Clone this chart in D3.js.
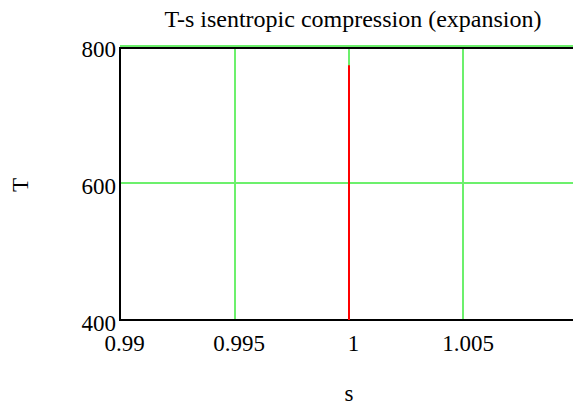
<!DOCTYPE html>
<html>
<head>
<meta charset="utf-8">
<script src="https://cdn.jsdelivr.net/npm/d3@7"></script>
<style>
  body { margin: 0; background: #fff; }
  svg text { font-family: "Liberation Serif", "Times New Roman", serif; fill: #000; }
</style>
</head>
<body>
<svg id="chart" width="573" height="406"></svg>
<script>
// chart values
var sValues = [1, 1];
var tValues = [400, 772];
var xTicks = [0.99, 0.995, 1, 1.005];
var yTicks = [400, 600, 800];
var xGrid = [0.995, 1, 1.005];
var yGrid = [600, 800];
var title = "T-s isentropic compression (expansion)";

var svg = d3.select("#chart");
var width = +svg.attr("width"),
    height = +svg.attr("height");

// plot box runs past the right edge of the window
var plotL = 120, plotR = 578, plotT = 46, plotB = 320;

var x = d3.scaleLinear().domain([0.99, 1.01]).range([plotL, plotR]);
var y = d3.scaleLinear().domain([400, 800]).range([plotB, plotT]);

// snap to whole pixels so 2px lines stay crisp
function px(v) { return Math.round(v); }

var green = "#6cf06c";

// grid
svg.append("g").attr("class", "grid")
  .selectAll("line")
  .data(xGrid)
  .enter().append("line")
    .attr("x1", function(d) { return px(x(d)); })
    .attr("x2", function(d) { return px(x(d)); })
    .attr("y1", plotT)
    .attr("y2", plotB)
    .style("stroke", green)
    .style("stroke-width", 2);

svg.append("g").attr("class", "grid")
  .selectAll("line")
  .data(yGrid)
  .enter().append("line")
    .attr("x1", plotL)
    .attr("x2", width)
    .attr("y1", function(d) { return px(y(d)); })
    .attr("y2", function(d) { return px(y(d)); })
    .style("stroke", green)
    .style("stroke-width", 2);

// frame (top edge sits just under the 800 grid line)
var frame = svg.append("g").attr("class", "frame");
frame.append("line").attr("x1", plotL).attr("x2", width).attr("y1", plotT + 2).attr("y2", plotT + 2)
  .style("stroke", "#000").style("stroke-width", 2);
frame.append("line").attr("x1", plotL).attr("x2", width).attr("y1", plotB).attr("y2", plotB)
  .style("stroke", "#000").style("stroke-width", 2);
frame.append("line").attr("x1", plotL).attr("x2", plotL).attr("y1", plotT + 1).attr("y2", plotB + 1)
  .style("stroke", "#000").style("stroke-width", 2);

// trace
var line = d3.line()
  .x(function(d, i) { return px(x(sValues[i])); })
  .y(function(d) { return y(d); });

svg.append("path")
  .datum(tValues)
  .attr("d", line)
  .style("fill", "none")
  .style("stroke", "#ff0000")
  .style("stroke-width", 2);

// axes (labels only)
var xAxis = d3.axisBottom(x).tickValues(xTicks).tickSize(0).tickPadding(0)
  .tickFormat(function(d) { return String(d); });
var gx = svg.append("g").attr("transform", "translate(4," + (plotB + 15) + ")").call(xAxis);
gx.select(".domain").remove();
gx.selectAll("text").style("font-size", "23px").style("font-family", "Liberation Serif, serif");

var yAxis = d3.axisLeft(y).tickValues(yTicks).tickSize(0).tickPadding(0)
  .tickFormat(function(d) { return String(d); });
var gy = svg.append("g").attr("transform", "translate(" + (plotL - 4) + ",3)").call(yAxis);
gy.select(".domain").remove();
gy.selectAll("text").style("font-size", "23px").style("font-family", "Liberation Serif, serif");

// titles
svg.append("text")
  .attr("x", 353)
  .attr("y", 27)
  .attr("text-anchor", "middle")
  .style("font-size", "24px")
  .text(title);

svg.append("text")
  .attr("transform", "translate(28,185) rotate(-90)")
  .attr("text-anchor", "middle")
  .style("font-size", "23px")
  .text("T");

svg.append("text")
  .attr("x", 349)
  .attr("y", 401)
  .attr("text-anchor", "middle")
  .style("font-size", "23px")
  .text("s");
</script>
</body>
</html>
